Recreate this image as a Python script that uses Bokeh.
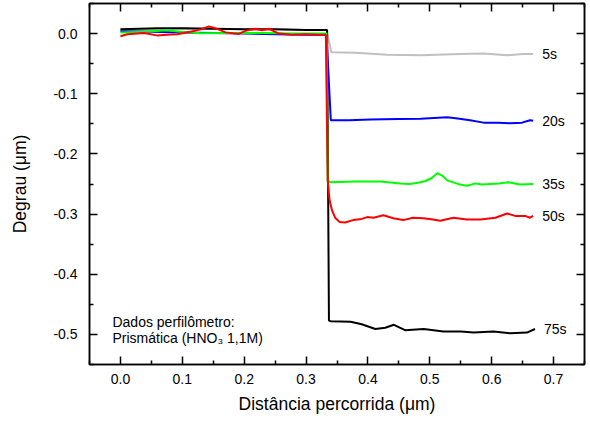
from bokeh.plotting import figure
from bokeh.models import (LinearAxis, Range1d, Label, FixedTicker, PrintfTickFormatter,
                          CustomJSTickFormatter)
from bokeh.core.properties import value
from bokeh.embed import file_html
from bokeh.resources import INLINE

FONT = "Liberation Sans"

# Step-height profiles (x in µm, height in µm) for each etching time
t5_x = [0.0, 0.05, 0.10, 0.15, 0.20, 0.25, 0.30, 0.333, 0.341, 0.38, 0.431, 0.485,
        0.549, 0.587, 0.625, 0.650, 0.667]
t5_y = [0.006, 0.007, 0.008, 0.008, 0.007, 0.007, 0.006, 0.006, -0.031, -0.032, -0.035,
        -0.036, -0.034, -0.033, -0.036, -0.034, -0.034]

t20_x = [0.0, 0.05, 0.10, 0.15, 0.20, 0.25, 0.30, 0.333, 0.340, 0.37, 0.404, 0.45, 0.485,
         0.528, 0.545, 0.565, 0.587, 0.610, 0.630, 0.649, 0.662, 0.667]
t20_y = [0.004, 0.003, 0.002, 0.001, 0.000, -0.001, -0.002, -0.002, -0.144, -0.144, -0.143,
         -0.142, -0.1415, -0.139, -0.141, -0.144, -0.148, -0.148, -0.149, -0.148, -0.144,
         -0.145]

t35_x = [0.0, 0.04, 0.075, 0.097, 0.13, 0.18, 0.23, 0.28, 0.333, 0.335, 0.340, 0.38, 0.42,
         0.452, 0.468, 0.485, 0.493, 0.503, 0.512, 0.520, 0.528, 0.549, 0.560, 0.574, 0.585,
         0.598, 0.612, 0.627, 0.646, 0.667]
t35_y = [0.002, 0.003, 0.0055, 0.003, 0.0005, 0.001, 0.001, 0.000, 0.000, -0.245, -0.247,
         -0.246, -0.246, -0.249, -0.250, -0.247, -0.245, -0.240, -0.232, -0.236, -0.244,
         -0.251, -0.253, -0.249, -0.251, -0.250, -0.249, -0.247, -0.251, -0.250]

t50_x = [0.0, 0.011, 0.038, 0.059, 0.075, 0.092, 0.113, 0.130, 0.143, 0.153, 0.170, 0.191,
         0.202, 0.218, 0.229, 0.240, 0.256, 0.277, 0.299, 0.320, 0.332, 0.335, 0.338, 0.342,
         0.347, 0.354, 0.363, 0.376, 0.390, 0.399, 0.409, 0.425, 0.441, 0.457, 0.473, 0.490,
         0.505, 0.517, 0.538, 0.560, 0.582, 0.606, 0.625, 0.638, 0.654, 0.662, 0.667]
t50_y = [-0.0045, -0.001, 0.001, -0.003, -0.002, -0.001, 0.003, 0.007, 0.012, 0.009, 0.002,
         -0.0005, 0.0045, 0.008, 0.0055, 0.008, 0.000, -0.002, -0.001, -0.002, -0.002, -0.244,
         -0.277, -0.294, -0.306, -0.313, -0.314, -0.310, -0.308, -0.305, -0.306, -0.302,
         -0.307, -0.310, -0.306, -0.307, -0.309, -0.311, -0.306, -0.309, -0.309, -0.306,
         -0.299, -0.303, -0.303, -0.306, -0.303]

t75_x = [0.0, 0.03, 0.06, 0.10, 0.15, 0.20, 0.25, 0.30, 0.334, 0.337, 0.340, 0.372, 0.390,
         0.412, 0.428, 0.442, 0.460, 0.490, 0.522, 0.550, 0.571, 0.603, 0.630, 0.657, 0.670]
t75_y = [0.007, 0.008, 0.009, 0.009, 0.008, 0.007, 0.007, 0.006, 0.006, -0.477, -0.478,
         -0.479, -0.483, -0.491, -0.489, -0.484, -0.493, -0.491, -0.495, -0.495, -0.497,
         -0.495, -0.498, -0.497, -0.491]

series = [
    ("5s", t5_x, t5_y, "#c0c0c0"),
    ("75s", t75_x, t75_y, "#000000"),
    ("20s", t20_x, t20_y, "#0000ff"),
    ("35s", t35_x, t35_y, "#00ff00"),
    ("50s", t50_x, t50_y, "#ff0000"),
]

x_major = [0.0, 0.1, 0.2, 0.3, 0.4, 0.5, 0.6, 0.7]
x_minor = [-0.05, 0.05, 0.15, 0.25, 0.35, 0.45, 0.55, 0.65, 0.75]
y_major = [-0.5, -0.4, -0.3, -0.2, -0.1, 0.0]
y_minor = [-0.55, -0.45, -0.35, -0.25, -0.15, -0.05, 0.05]

p = figure(width=590, height=424, output_backend="svg", toolbar_location=None,
           x_range=Range1d(-0.05, 0.75), y_range=Range1d(-0.55, 0.05),
           min_border_left=89, min_border_right=6, min_border_top=3, min_border_bottom=60,
           x_axis_label="Distância percorrida (μm)", y_axis_label="Degrau (μm)")
p.background_fill_color = "white"
p.border_fill_color = "white"
p.outline_line_color = "black"
p.outline_line_width = 1.5
p.xgrid.visible = False
p.ygrid.visible = False


def style_axis(ax, ticks, minor, show_labels):
    ax.ticker = FixedTicker(ticks=ticks, minor_ticks=minor)
    ax.axis_line_color = "black"
    ax.axis_line_width = 1.5
    ax.major_tick_line_width = 1.5
    ax.minor_tick_line_width = 1.5
    ax.major_tick_in = 8
    ax.major_tick_out = 0
    ax.minor_tick_in = 4
    ax.minor_tick_out = 0
    if show_labels:
        ax.formatter = PrintfTickFormatter(format="%.1f")
        ax.major_label_text_font = FONT
        ax.major_label_text_font_size = "14px"
        ax.major_label_text_color = "black"
        ax.axis_label_text_font = FONT
        ax.axis_label_text_font_size = "17.5px"
        ax.axis_label_text_font_style = "normal"
        ax.axis_label_text_color = "black"
    else:
        # mirror axis: ticks only, no tick labels
        ax.formatter = CustomJSTickFormatter(code="return '';")
        ax.major_label_text_font_size = "1px"
        ax.major_label_standoff = 0
        ax.axis_label = None


style_axis(p.xaxis[0], x_major, x_minor, True)
style_axis(p.yaxis[0], y_major, y_minor, True)
p.xaxis[0].major_label_standoff = 9
p.xaxis[0].axis_label_standoff = 7
p.yaxis[0].major_label_standoff = 12
p.yaxis[0].axis_label_standoff = 20

top_axis = LinearAxis()
style_axis(top_axis, x_major, x_minor, False)
p.add_layout(top_axis, "above")
right_axis = LinearAxis()
style_axis(right_axis, y_major, y_minor, False)
p.add_layout(right_axis, "right")

for name, xs, ys, color in series:
    p.line(xs, ys, line_color=color, line_width=2)
    p.text(x=[xs[-1]], y=[ys[-1]], text=[name], x_offset=9,
           text_font=value(FONT), text_font_size="14px", text_color="black",
           text_baseline="middle", text_align="left")

note1 = Label(x=-0.0129, y=-0.4788, text="Dados perfilômetro:", text_font=FONT,
              text_font_size="14px", text_color="black", text_baseline="alphabetic")
note2 = Label(x=-0.0129, y=-0.5058, text="Prismática (HNO₃ 1,1M)", text_font=FONT,
              text_font_size="14px", text_color="black", text_baseline="alphabetic")
p.add_layout(note1)
p.add_layout(note2)

open("out.html", "w").write(file_html(p, INLINE))
